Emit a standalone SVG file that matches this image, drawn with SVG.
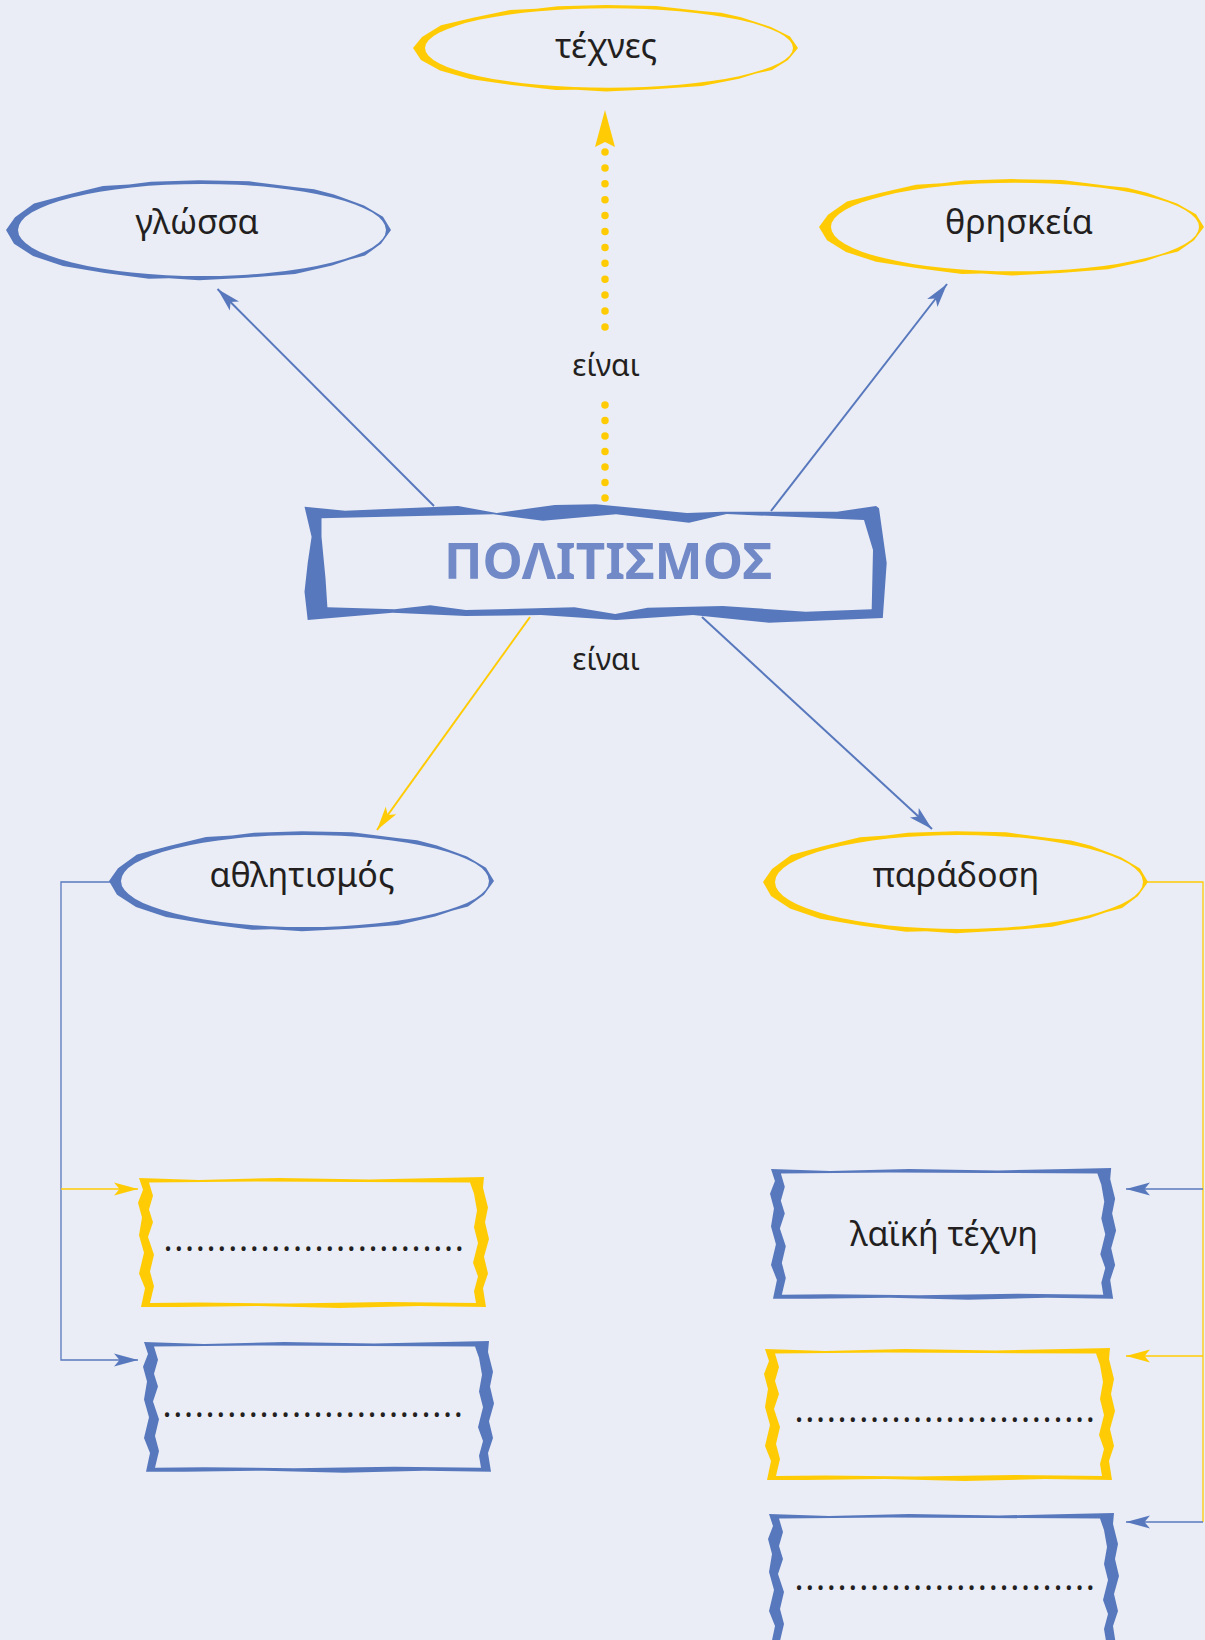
<svg xmlns="http://www.w3.org/2000/svg" width="1205" height="1640" viewBox="0 0 1205 1640">
<style>
.bg{fill:#eaedf6}
.blue{fill:#5878bd}
.yel{fill:#ffcb05}
.lbl{font-family:"Noto Sans","Open Sans","DejaVu Sans",sans-serif;font-size:34px;fill:#231f20;text-anchor:middle}
.edge{font-family:"Noto Sans","Open Sans","DejaVu Sans",sans-serif;font-size:30px;fill:#231f20;text-anchor:middle}
.dots{font-family:"Noto Sans","Open Sans","DejaVu Sans",sans-serif;font-size:34px;fill:#231f20;letter-spacing:1.68px}
.title{font-family:"Noto Sans","Open Sans","DejaVu Sans",sans-serif;font-size:51px;font-weight:bold;fill:#7189c7;text-anchor:middle}
.cb{stroke:#5878bd;stroke-width:2;fill:none}
.cy{stroke:#ffcb05;stroke-width:2;fill:none}
.tb{stroke:#5878bd;stroke-width:1.3;fill:none}
.ty{stroke:#ffcb05;stroke-width:1.3;fill:none}
</style>
<defs>
<marker id="ab" markerUnits="userSpaceOnUse" markerWidth="30" markerHeight="20" viewBox="-26 -10 30 20" refX="0" refY="0" orient="auto">
<path d="M0,0 L-24,-6.5 L-18.5,0 L-24,6.5 Z" fill="#5878bd"/>
</marker>
<marker id="ay" markerUnits="userSpaceOnUse" markerWidth="30" markerHeight="20" viewBox="-26 -10 30 20" refX="0" refY="0" orient="auto">
<path d="M0,0 L-24,-6.5 L-18.5,0 L-24,6.5 Z" fill="#ffcb05"/>
</marker>
<path id="ell" fill-rule="evenodd" d="M192,0 L182,13 L166,24 L150,28 L133,33.5 L96,41.5 L48,45 L0,47.5 L-30,45.5 L-50,46 L-94,40.5 L-136,34 L-166,24.5 L-185,13 L-193,0 L-184,-12 L-165,-25 L-133,-33 L-96,-41.5 L-70,-43 L-48,-45.5 L0,-47 L50,-46 L95,-40.5 L115,-38.5 L135,-33.5 L165,-23 L184,-12.5 Z M-181,0 A184,43.5 0 1 0 187,0 A184,43.5 0 1 0 -181,0 Z"/>
<path id="box" fill-rule="evenodd" d="M0,0 L60,2 L140,0 L230,1.5 L300,0 L345,-1 L344,10 L349,30 L346,45 L350,62 L345,80 L349,97 L344,112 L347,131 L280,130 L200,132 L120,130 L40,131 L2,131 L6,112 L0,97 L5,76 L0,58 L3,40 L-1,25 L4,12 Z M10,4.5 L14,18 L10,32 L14,45 L9,60 L15,78 L11,95 L15,110 L11,127 L60,126.5 L150,127.5 L250,126 L337,127 L335,115 L339,100 L334,86 L339,66 L335,50 L338,33 L335,16 L331,4.5 L220,4 L120,3.5 Z"/>
</defs>
<rect class="bg" x="0" y="0" width="1205" height="1640"/>

<g id="connectors">
<line class="cb" x1="434" y1="506" x2="217.5" y2="289" marker-end="url(#ab)"/>
<line class="cb" x1="771" y1="511" x2="947" y2="284" marker-end="url(#ab)"/>
<line class="cy" x1="530" y1="617" x2="377" y2="830" marker-end="url(#ay)"/>
<line class="cb" x1="702" y1="617" x2="932" y2="829" marker-end="url(#ab)"/>
<line x1="605" y1="152" x2="605" y2="328" stroke="#ffcb05" stroke-width="7.5" stroke-linecap="round" stroke-dasharray="0 15.9"/>
<line x1="605" y1="405" x2="605" y2="500" stroke="#ffcb05" stroke-width="7.5" stroke-linecap="round" stroke-dasharray="0 15.5"/>
<path class="yel" d="M605,110 L615,147 L605,142 L595,147 Z"/>
<text class="edge" x="606" y="376">είναι</text>
<text class="edge" x="606" y="670">είναι</text>
<path class="tb" d="M112,882 H61 V1360 H138" marker-end="url(#ab)"/>
<path class="ty" d="M61,1189 H138" marker-end="url(#ay)"/>
<path class="ty" d="M1147,882 H1203 V1522"/>
<path class="tb" d="M1203,1189 H1126" marker-end="url(#ab)"/>
<path class="ty" d="M1203,1356 H1126" marker-end="url(#ay)"/>
<path class="tb" d="M1203,1522 H1126" marker-end="url(#ab)"/>
</g>

<g id="node-politismos">
<path class="blue" fill-rule="evenodd" d="M304.5,506.7 L345,510.7 L458,506 L496.6,513 L554.7,505 L596,504.3 L687,513 L722.7,511.7 L837,511.7 L876,506 L879,508.3 L886.7,563 L882.8,618 L769,622.7 L693,615 L616,620 L541,615 L465.8,616 L392.6,612.7 L307.7,620 L304.5,591.7 L307.7,563 L311.6,536.7 Z M321.5,518.3 L321.5,536.7 L325.5,578.3 L327.4,607.3 L394.6,609.3 L430.2,605.3 L465.8,610 L574.5,607.3 L615.2,614 L647.6,607.7 L722.7,606 L805.7,611.7 L871.7,609.3 L873,550 L864,520 L726.6,514 L689,522.7 L616,514.3 L542.8,520.7 L493.4,514.3 Z"/>
<text class="title" x="608" y="579">ΠΟΛΙΤΙΣΜΟΣ</text>
</g>

<g id="node-technes">
<use href="#ell" class="yel" transform="translate(606,48) scale(1,0.915)"/>
<text class="lbl" x="606" y="58">τέχνες</text>
</g>
<g id="node-glossa">
<use href="#ell" class="blue" transform="translate(199,230) scale(1,1.06)"/>
<text class="lbl" x="197" y="234">γλώσσα</text>
</g>
<g id="node-thriskeia">
<use href="#ell" class="yel" transform="translate(1012,227) scale(1,1.02)"/>
<text class="lbl" x="1019" y="234">θρησκεία</text>
</g>
<g id="node-athlitismos">
<use href="#ell" class="blue" transform="translate(302,881) scale(1,1.06)"/>
<text class="lbl" x="302" y="887">αθλητισμός</text>
</g>
<g id="node-paradosi">
<use href="#ell" class="yel" transform="translate(956,882) scale(1,1.08)"/>
<text class="lbl" x="956" y="887">παράδοση</text>
</g>

<g id="node-box-left-1">
<use href="#box" class="yel" transform="translate(139,1178) scale(1,0.985)"/>
<text class="dots" x="163.4" y="1251">............................</text>
</g>
<g id="node-box-left-2">
<use href="#box" class="blue" transform="translate(144,1342) scale(1,0.99)"/>
<text class="dots" x="162.4" y="1417">............................</text>
</g>
<g id="node-laiki-techni">
<use href="#box" class="blue" transform="translate(771,1169) scale(0.986,0.99)"/>
<text class="lbl" x="944" y="1246">λαϊκή τέχνη</text>
</g>
<g id="node-box-right-2">
<use href="#box" class="yel" transform="translate(765,1349)"/>
<text class="dots" x="794.4" y="1422">............................</text>
</g>
<g id="node-box-right-3">
<use href="#box" class="blue" transform="translate(769,1514)"/>
<text class="dots" x="794.4" y="1590">............................</text>
</g>
</svg>
